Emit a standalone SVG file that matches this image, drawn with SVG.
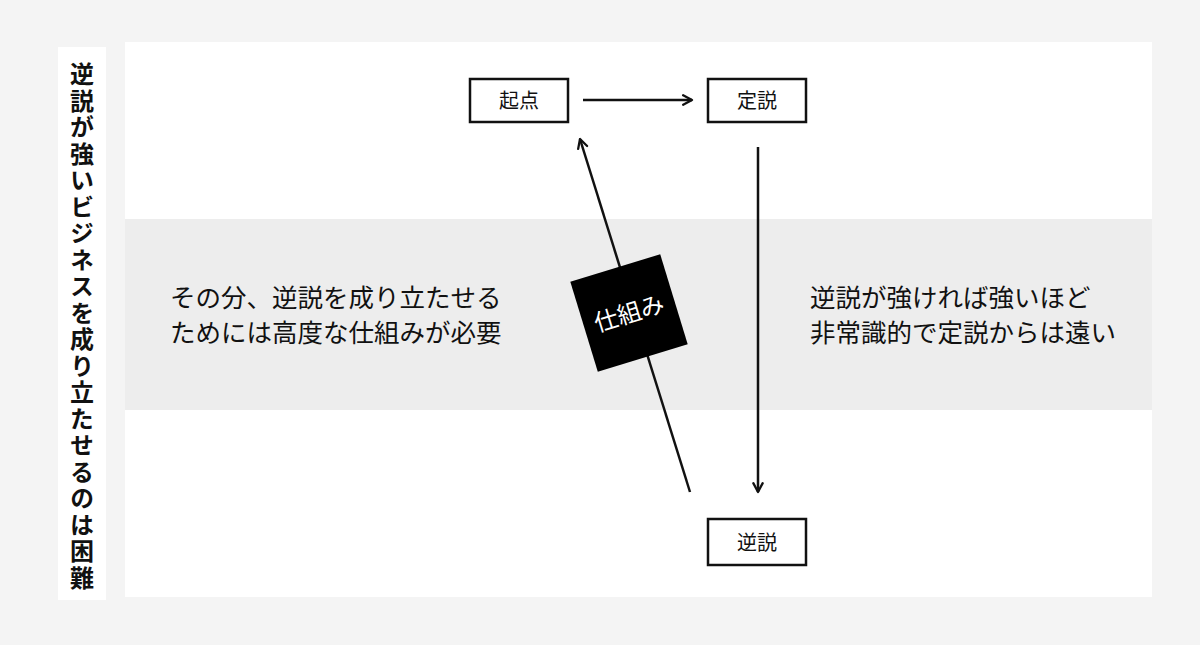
<svg xmlns="http://www.w3.org/2000/svg" width="1200" height="645" viewBox="0 0 1200 645">
<defs>
<style>
text{font-family:"Noto Sans CJK JP","Noto Sans",sans-serif;fill:#111}
.box{fill:#fff;stroke:#111;stroke-width:2.5}
.lbl{font-size:20px;text-anchor:middle}
.body{font-size:25.5px}
.ln{stroke:#111;stroke-width:2.5;fill:none;marker-end:url(#ah)}
</style>
<marker id="ah" viewBox="0 0 12 12" refX="10.5" refY="6" markerWidth="5" markerHeight="5" orient="auto" markerUnits="strokeWidth"><path d="M2,1.5 L10.5,6 L2,10.5" fill="none" stroke="#111" stroke-width="2.2" stroke-linecap="round" stroke-linejoin="round"/></marker>
</defs>
<rect width="1200" height="645" fill="#f4f4f4"/>
<rect x="58" y="47" width="48" height="553" fill="#fff"/>
<text x="82" y="62" style="writing-mode:vertical-rl;font-size:24px;font-weight:bold;letter-spacing:2.5px">逆説が強いビジネスを成り立たせるのは困難</text>
<rect x="125" y="42" width="1027" height="555" fill="#fff"/>
<rect x="125" y="219" width="1027" height="191" fill="#ededed"/>
<g id="connectors">
<line class="ln" x1="583" y1="100" x2="692" y2="100"/>
<line class="ln" x1="758" y1="147" x2="758" y2="492"/>
<line class="ln" x1="690" y1="492" x2="580" y2="139"/>
</g>
<g id="n-kiten"><rect class="box" x="470" y="79" width="98" height="43"/><text class="lbl" x="519" y="108">起点</text></g>
<g id="n-teisetsu"><rect class="box" x="708" y="79" width="98" height="43"/><text class="lbl" x="757" y="108">定説</text></g>
<g id="n-gyakusetsu"><rect class="box" x="708" y="519" width="98" height="46"/><text class="lbl" x="757" y="550">逆説</text></g>
<g id="n-shikumi" transform="translate(629,313) rotate(-17)"><rect x="-47" y="-47" width="94" height="94" fill="#000"/><text x="0" y="9" style="font-size:24px;fill:#fff;text-anchor:middle">仕組み</text></g>
<g id="t-left"><text class="body" x="170" y="307">その分、逆説を成り立たせる</text><text class="body" x="170" y="342">ためには高度な仕組みが必要</text></g>
<g id="t-right"><text class="body" x="810" y="307">逆説が強ければ強いほど</text><text class="body" x="810" y="342">非常識的で定説からは遠い</text></g>
</svg>
